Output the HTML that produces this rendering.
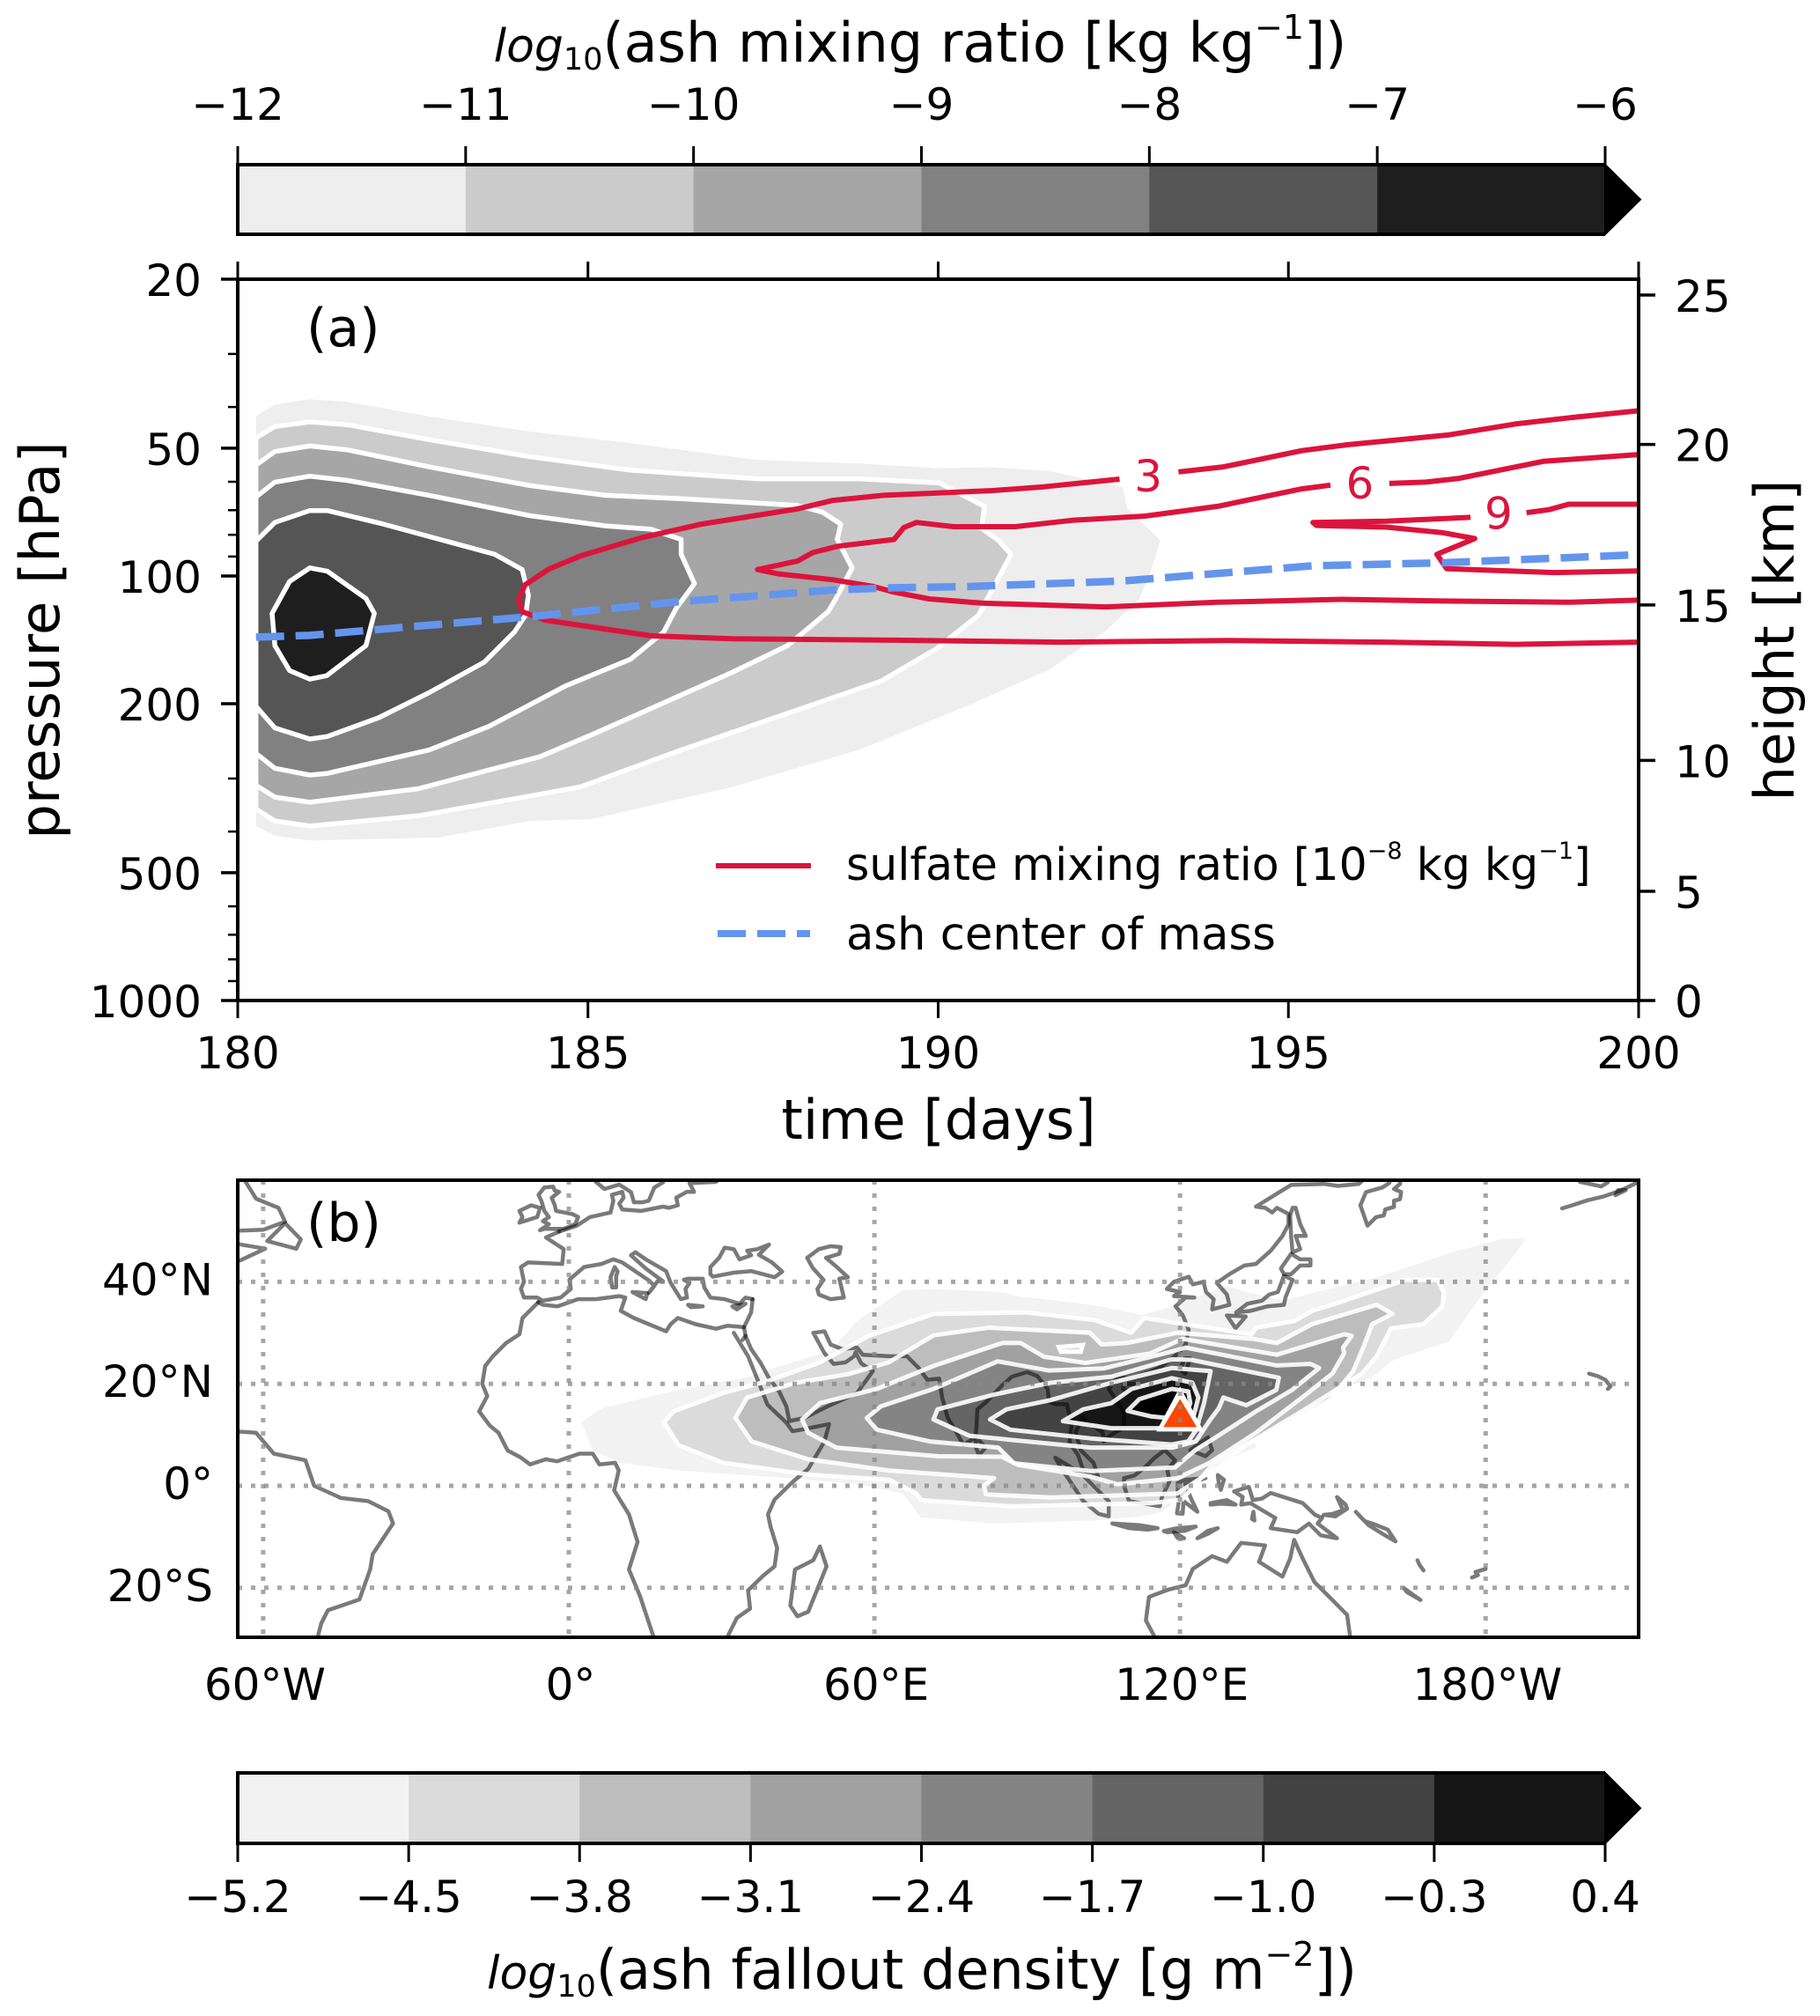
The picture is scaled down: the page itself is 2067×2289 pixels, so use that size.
<!DOCTYPE html>
<html lang="en">
<head>
<meta charset="utf-8">
<title>Ash mixing ratio and fallout density</title>
<style>
html,body{margin:0;padding:0;background:#fff;}
svg{display:block;font-family:"DejaVu Sans","Liberation Sans",sans-serif;fill:#000;}
</style>
</head>
<body>
<svg id="fig" xmlns="http://www.w3.org/2000/svg" width="2067" height="2289" viewBox="0 0 2067 2289">
  <defs>
    <clipPath id="clipA"><rect x="270" y="317" width="1591" height="819"/></clipPath>
    <clipPath id="clipB"><rect x="270" y="1340" width="1591" height="519"/></clipPath>
  </defs>
  <rect width="2067" height="2289" fill="#fff"/>

  <text x="1045" y="70" font-size="62" text-anchor="middle"><tspan font-style="italic" font-size="52">log</tspan><tspan font-size="35" dy="9">10</tspan><tspan dy="-9">(ash mixing ratio [kg kg</tspan><tspan font-size="38" dy="-26">−1</tspan><tspan dy="26">])</tspan></text>
  <g id="topColorbar"></g>

  <g id="panelA"></g>
  <text x="348" y="393" font-size="60">(a)</text>
  <text x="1066" y="1293" font-size="62.5" text-anchor="middle">time [days]</text>
  <text x="67" y="727" font-size="62.5" text-anchor="middle" transform="rotate(-90 67 727)">pressure [hPa]</text>
  <text x="2037" y="727" font-size="62.5" text-anchor="middle" transform="rotate(-90 2037 727)">height [km]</text>

  <g>
    <line x1="813" y1="983" x2="921" y2="983" stroke="#dc143c" stroke-width="6"/>
    <text x="961" y="999" font-size="50.5">sulfate mixing ratio [10<tspan font-size="27" dy="-24">−8</tspan><tspan dy="24"> kg kg</tspan><tspan font-size="27" dy="-24">−1</tspan><tspan dy="24">]</tspan></text>
    <line x1="815" y1="1060" x2="920" y2="1060" stroke="#6495ed" stroke-width="8" stroke-dasharray="32,13"/>
    <text x="961" y="1078" font-size="51.2">ash center of mass</text>
  </g>

  <g id="panelB"></g>
  <text x="348" y="1409" font-size="60">(b)</text>

  <g id="bottomColorbar"></g>
  <text x="1047" y="2258" font-size="62" text-anchor="middle"><tspan font-style="italic" font-size="52">log</tspan><tspan font-size="35" dy="9">10</tspan><tspan dy="-9">(ash fallout density [g m</tspan><tspan font-size="38" dy="-26">−2</tspan><tspan dy="26">])</tspan></text>
</svg>

<script>
/* ---------- Panel (a) data: [day, log10(pressure / hPa)] ---------- */
const timeTicks = [180, 185, 190, 195, 200];
const pressureTicks = [20, 50, 100, 200, 500, 1000];
const pressureMinorTicks = [30, 40, 60, 70, 80, 90, 300, 400, 600, 700, 800, 900];
const heightTickLabels = [0, 5, 10, 15, 20, 25];
const heightTickPressures = [1000, 553, 272, 117, 49, 21.8];

const ashLevel0 = [[180.26,1.624],[180.53,1.596],[181.03,1.584],[181.57,1.59],[182.73,1.624],[184.17,1.66],[185.61,1.687],[187.42,1.727],[188.86,1.735],[189.98,1.746],[190.78,1.744],[191.59,1.753],[192.63,1.791],[192.7,1.84],[193.17,1.916],[193.03,1.992],[192.87,2.054],[192.39,2.13],[191.59,2.22],[190.46,2.303],[188.86,2.41],[187.06,2.497],[185.04,2.573],[184.17,2.577],[182.87,2.616],[181.03,2.623],[180.53,2.612],[180.26,2.589]];
const ashLevel1 = [[180.26,1.675],[180.53,1.648],[181.03,1.637],[181.57,1.644],[182.73,1.679],[184.17,1.719],[185.61,1.751],[187.42,1.771],[188.86,1.771],[190.02,1.781],[190.66,1.836],[190.62,1.888],[190.86,1.916],[191.04,1.949],[190.7,2.054],[190.58,2.092],[189.98,2.171],[189.18,2.248],[188,2.315],[186.33,2.41],[184.89,2.497],[183.67,2.533],[182.58,2.565],[181.03,2.589],[180.53,2.577],[180.26,2.549]];
const ashLevel2 = [[180.26,1.739],[180.53,1.707],[181.03,1.694],[181.57,1.703],[182.73,1.743],[184.17,1.787],[185.25,1.81],[186.33,1.818],[187.99,1.834],[188.35,1.85],[188.61,1.878],[188.56,1.914],[188.77,1.981],[188.54,2.053],[188.43,2.084],[187.85,2.164],[187.06,2.227],[185.11,2.37],[184.31,2.426],[183.59,2.457],[182.58,2.501],[181.03,2.533],[180.53,2.521],[180.26,2.493]];
const ashLevel3 = [[180.26,1.814],[180.53,1.779],[181.03,1.765],[181.57,1.775],[182.73,1.81],[184.17,1.858],[185.25,1.882],[185.9,1.89],[186.33,1.914],[186.33,1.949],[186.52,2.018],[186.26,2.076],[186.08,2.132],[185.61,2.196],[184.68,2.259],[183.59,2.354],[182.73,2.41],[181.28,2.465],[181.03,2.469],[180.53,2.453],[180.26,2.418]];
const ashLevel4 = [[180.26,1.918],[180.53,1.874],[181.03,1.846],[181.28,1.846],[182.08,1.878],[183.67,1.949],[184.06,1.985],[184.15,2.045],[184.11,2.092],[183.95,2.132],[183.52,2.203],[182.73,2.275],[182.01,2.334],[181.28,2.378],[181.03,2.384],[180.53,2.358],[180.26,2.307]];
const ashLevel5 = [[181.03,1.981],[181.28,1.989],[181.83,2.053],[181.95,2.088],[181.83,2.164],[181.27,2.235],[181.03,2.243],[180.74,2.223],[180.53,2.164],[180.49,2.088],[180.74,2.013]];
const ashLevels = [ashLevel0, ashLevel1, ashLevel2, ashLevel3, ashLevel4, ashLevel5];

const sulfate3Right = [[200,1.611],[199.04,1.627],[198.24,1.642],[197.28,1.668],[195.84,1.691],[195.19,1.705],[194.07,1.743],[193.43,1.755]];
const sulfate3Rest = [[192.59,1.772],[191.51,1.79],[190.78,1.799],[189.22,1.81],[188.5,1.822],[187.99,1.842],[186.62,1.878],[185.76,1.91],[184.89,1.953],[184.44,1.984],[184.1,2.021],[184.01,2.057],[184.06,2.084],[184.39,2.104],[185.9,2.141],[187.06,2.148],[189.18,2.151],[191.75,2.156],[194.15,2.152],[196.4,2.156],[198.24,2.161],[200,2.156]];
const sulfate6Right = [[200,1.714],[198.64,1.73],[197.44,1.77],[196.96,1.779],[196.44,1.782]];
const sulfate6Rest = [[195.6,1.786],[195.19,1.795],[193.99,1.836],[192.95,1.859],[191.91,1.869],[191.1,1.884],[190.22,1.884],[189.69,1.874],[189.51,1.886],[189.37,1.914],[188.57,1.93],[188.21,1.945],[187.99,1.965],[187.42,1.985],[187.71,1.995],[188.5,2.009],[189.08,2.025],[189.37,2.038],[189.87,2.054],[190.62,2.064],[192.39,2.073],[193.99,2.062],[195.76,2.055],[197.2,2.059],[199.04,2.062],[200,2.057]];
const sulfate9Right = [[200,1.831],[199,1.831],[198.72,1.844],[198.4,1.851]];
const sulfate9Rest = [[197.6,1.862],[196.4,1.871],[195.35,1.874],[195.4,1.881],[196.4,1.885],[197.2,1.898],[197.66,1.912],[197.12,1.949],[197.26,1.983],[198.8,1.992],[200,1.988]];
const sulfateLines = [sulfate3Right, sulfate3Rest, sulfate6Right, sulfate6Rest, sulfate9Right, sulfate9Rest];
const sulfateLabelValues = [3, 6, 9];
const sulfateLabelDays = [193.0, 196.02, 198.0];
const sulfateLabelLogP = [1.764, 1.78, 1.852];

const centerOfMass = [[180.26,2.144],[181.03,2.14],[182.01,2.126],[184.17,2.096],[186.33,2.06],[188.5,2.033],[189.34,2.028],[190.43,2.025],[192.63,2.012],[195.35,1.976],[197.2,1.969],[200,1.95]];

/* ---------- Colorbars ---------- */
const ashBarTicks = [-12, -11, -10, -9, -8, -7, -6];
const ashBarColors = ['#eeeeee', '#cbcbcb', '#a7a6a6', '#818181', '#555555', '#1e1e1e'];
const falloutBarTicks = [-5.2, -4.5, -3.8, -3.1, -2.4, -1.7, -1.0, -0.3, 0.4];
const falloutBarColors = ['#f2f2f2', '#dbdbdb', '#bdbdbd', '#a1a1a1', '#848484', '#656565', '#434343', '#161616'];

/* ---------- Panel (b) data: [longitude east, latitude] ---------- */
const lonTicks = [-60, 0, 60, 120, 180];
const lonTickNames = ['60°W', '0°', '60°E', '120°E', '180°W'];
const latTicks = [40, 20, 0, -20];
const latTickNames = ['40°N', '20°N', '0°', '20°S'];

const fallout0 = [[2.5,12.5],[6.5,15.2],[21.5,18.8],[34.7,21.2],[43.5,24.1],[51.5,26.5],[56.8,32.5],[65.6,38.4],[71.6,38.6],[85,38],[87.8,37.2],[98.7,36],[104.4,35.2],[112.5,33.5],[118,35],[129.2,39.2],[133.2,38],[140.1,36.3],[159,41],[173.5,45.8],[182.8,48.3],[187.8,48.6],[186.4,46.2],[180,38.4],[172.8,28.3],[162,24.7],[157.5,21.2],[148.4,17.6],[141.3,13.3],[134.6,9.3],[134.9,7.5],[128,4.7],[124.6,1.8],[119.5,-2.7],[116.5,-5.1],[112.5,-6],[103.2,-6.8],[83.3,-7.4],[69.1,-6.2],[65.6,-1.5],[56.8,0.3],[43.5,1.5],[21.5,3],[10,4.5],[4.7,6.9]];
const fallout1 = [[18.7,12.5],[20.6,14.6],[30.3,18.2],[39,20.5],[49.3,24.2],[58.9,29.4],[71.6,33.7],[89.6,34],[103.2,32.5],[110.4,30],[113,32.9],[119.5,31.9],[134,29.7],[135,31],[142.4,32.3],[145.9,34.3],[150.5,35.7],[164.3,40.4],[170.6,40.4],[171.8,37.8],[171.5,35.2],[167.8,31.7],[161.4,30.9],[158.6,25.4],[155.7,22],[143.9,14.6],[134.9,9.2],[126.7,4.5],[120.4,-2.7],[114.4,-3.4],[86.7,-4],[69.2,-2.8],[68.2,-1.5],[62.9,1.2],[48,2.1],[30.3,4.5],[21.5,8]];
const fallout2 = [[32.7,13.3],[35,17.3],[44.6,20.2],[54.9,21.9],[62.8,24.2],[71.6,29.5],[82.4,31],[102.3,30],[104.6,27.7],[109.5,28],[119.5,30],[134.4,28.8],[139,28],[145.9,31.7],[158.6,35.5],[161.7,33.7],[157.7,31.7],[156.2,27.7],[154,22.5],[149.3,16.8],[133,8],[125,2.1],[119.5,-1.5],[94.6,-2.3],[81.9,-1.7],[81.5,0],[83.5,1.5],[62.8,3],[47,5.2],[35.9,8.7]];
const fallout2Hole = [[96.2,27.2],[100.9,27.6],[100.5,26.3],[96.6,26.3]];
const fallout3 = [[45.8,13],[49.3,16.2],[60.5,19],[71.6,23.5],[85.1,28],[88.7,28],[93.3,25.3],[101.4,24.1],[114,25.9],[120.5,28.8],[139,25.7],[152.2,29.7],[153.7,29.4],[152,27.1],[152.2,26],[149.9,22],[144.7,17.9],[134.9,10.4],[125.8,4.5],[119.5,1.5],[107.7,0.3],[102.5,1.8],[88.2,4.1],[85,5.7],[72.4,5.8],[52.5,7.5],[47,10.4]];
const fallout4 = [[58.5,13.3],[61.3,15.6],[71.6,19],[84.2,24.4],[94.2,22.6],[105,23],[116.8,25.9],[121.1,27.1],[139,23.6],[145.6,23.9],[147.3,23.1],[142,18.8],[134.9,14.6],[127,9.5],[123,7],[119,3.6],[102.5,2.9],[87.4,4.4],[84.3,7.5],[70.8,8.7],[60.5,11]];
const fallout5 = [[71.6,13],[72.4,15],[83.5,17.9],[94.6,20.2],[106.5,21.4],[118.4,24.8],[122.2,24.7],[139.4,21.2],[138.9,18.8],[133,15.8],[128.5,17.3],[127.6,15.2],[125.8,12.8],[123.1,8.7],[118.6,7.5],[102.5,7.5],[78.7,9.8]];
const fallout6 = [[82.7,13],[85.9,15],[94.6,16.8],[106.5,20.2],[118.4,23.1],[126,22.5],[124.7,16.2],[123.2,11],[121.6,8.7],[118.4,8.1],[102.5,9.3],[86.7,11]];
const fallout7 = [[97,12.7],[101,15],[106.5,16.2],[110.5,19],[118.4,21.1],[122.4,20.2],[123.6,17.3],[122.4,12.7],[118.4,11.3],[106.5,11.3]];
const fallout8 = [[109.7,14.7],[112,17],[118.4,19],[121.6,18.5],[122,16.2],[120.8,13],[114.4,13.6]];
const falloutLevels = [fallout0, fallout1, fallout2, fallout3, fallout4, fallout5, fallout6, fallout7, fallout8];
const falloutLevelColors = ['#f2f2f2', '#dbdbdb', '#bdbdbd', '#a1a1a1', '#848484', '#656565', '#434343', '#161616', '#000000'];
const volcanoLocation = [120.35, 15.13];

const coastAfrica = [[-6,36],[-9.1,32.9],[-9.7,29.7],[-12.3,28],[-14.9,25.4],[-16.4,23.5],[-17,20],[-16,17.6],[-17.6,14.6],[-15.5,11.8],[-13.8,10.4],[-12,6.9],[-9.5,5.6],[-7.6,4.2],[-4.5,5.2],[-2.3,4.8],[2.1,6.3],[4.7,6.3],[6,4.2],[9.1,4.5],[9.8,3],[8.9,-0.9],[11.8,-5.6],[13.5,-11],[11.8,-16.4],[14,-21.7],[16.6,-29.5],[17,-31]];
const coastAfricaEast = [[31.2,-30.5],[31.2,-29.5],[33,-25.9],[35.6,-24.1],[35.2,-20.5],[38.2,-17.6],[40.4,-15.8],[40.9,-12.2],[39.6,-8],[39.1,-5.6],[40.4,-2.7],[44,0.8],[47,3.3],[50.2,8.7],[51.1,12.1],[45.6,11],[43.9,10.7],[42.7,12.4],[39,15.9],[37.3,20.2],[35.2,25.4],[32.4,30]];
const coastMediterraneanSouth = [[36.1,36.6],[35.8,34],[34.4,31.1],[31.2,31.4],[28.9,30.8],[24.9,31.7],[21.4,32.9],[20,31.7],[19.1,30.3],[15.7,31.7],[12.8,32.9],[10.2,34.3],[11.1,36.9],[9.9,37.2],[5.3,36.6],[1.8,36.6],[-2.2,35.2],[-5.1,35.5],[-6,36]];
const coastSinai = [[34.1,28.6],[34.7,29.4],[34.4,31.1]];
const coastArabia = [[34.7,29.4],[35.8,26.8],[37.6,24.2],[39.3,21.1],[41.3,18.5],[42.7,15.6],[43.3,12.7],[46.2,13.3],[50.8,15.6],[56.6,18.2],[59.7,22.5],[57.4,24],[56.3,26.2],[56,25.4],[54.3,24.2],[52,23.9],[50.2,26],[48,30],[50.2,30.3],[51.4,27.7],[53.7,26.8],[56.6,27.1],[57.7,25.7],[62.9,25.4],[66.4,25.4],[68.7,23.1],[70.4,20.8],[72.7,21],[73.3,17.3],[74.4,13.3],[75.5,11.5],[77.5,8],[79.8,9.5],[80,11],[80.2,15],[82,16.5],[85,19.6],[87,21.4],[90,22.3],[92,21.5],[94,19],[94.3,16.5],[95.5,16],[97.8,16],[98.7,12],[98.3,8.5],[100,6],[101,3],[104,1.5],[103,4.5],[100.5,7],[99.5,10.5],[100.8,13.4],[102.5,12],[104.8,10.5],[105,8.7],[106.5,10],[109,11.5],[109,14.5],[106,19],[108,21.5],[110,21],[114,22.3],[115.9,23.1],[119.7,26],[121.1,27.7],[121.7,30.6],[120.5,33.5],[119.1,35.2],[121.1,36.9],[122.8,36.9],[118.8,37.2],[120,38],[117.4,38.6],[118.8,40],[121.7,41],[122.5,39.5],[124.6,40],[125.1,38],[126.6,36.6],[126.3,34.6],[129.7,35.5],[129.2,37.5],[127.2,39.8],[129.7,41.5],[132.6,43.2],[134.9,43.5],[137.8,46.1],[140.1,49],[141.3,51.3],[141.3,53.3],[139,54.5],[138.1,53.6],[136.7,54.5],[134.9,54.75],[141.8,59],[148.2,59.2],[151,58.8],[155.1,59.2],[157,61]];
const coastKamchatka = [[163.2,60.5],[163.2,59.2],[162,58.2],[163.4,57.6],[163.2,56.2],[162,55.9],[162,54.7],[160.3,54.2],[160,53],[158.5,52.7],[156.8,51],[155.4,55],[156.5,57.6],[159.7,58.5],[161.1,59.4],[161,60.5]];
const coastSriLanka = [[80,9.5],[81.8,7.5],[80.5,6],[79.8,8],[80,9.5]];
const coastHonshu = [[140.4,41.2],[142.1,40.4],[140.7,36.9],[140.4,35.5],[137.2,35.2],[133.8,34.3],[131,34],[133.2,35.7],[136.1,36.3],[137.5,37.5],[139.2,38],[140.4,41.2]];
const coastKyushu = [[129.2,33.4],[130.9,30.9],[132.9,33.2],[129.2,33.4]];
const coastHokkaido = [[141.8,45.5],[143.6,44.4],[145.6,44.4],[145.6,43.2],[143.6,43.2],[141.8,41.5],[140.4,41.5],[139.8,42.6],[141.8,45.5]];
const coastSakhalin = [[142.1,54.5],[142.7,54.5],[143.6,51.3],[144.7,49],[142.7,49],[143.6,46.4],[142.1,45.8],[141.8,49],[141.6,53],[142.1,54.5]];
const coastTaiwan = [[121,25],[122,25],[121,22],[120,23],[121,25]];
const coastHainan = [[109,20],[111,20],[110,18.3],[108.8,19],[109,20]];
const coastLuzon = [[120.5,18.3],[122,18.3],[122,16],[124,13],[121,13.5],[120,16],[120.5,18.3]];
const coastMindanao = [[122,7],[125.5,9.5],[126.3,7],[125,5.8],[122,7]];
const coastSumatra = [[95.5,5.5],[98,4],[101,2],[104,-1],[106,-3],[106,-6],[104,-5.5],[101,-3],[99,0],[97,3],[95.5,5.5]];
const coastJava = [[106.7,-7.4],[111.9,-7.7],[115.6,-8.3],[113.6,-8.6],[110,-8.3],[106.7,-7.4]];
const coastLesserSunda = [[116.8,-8.9],[119,-8.4],[123.1,-8],[121,-8.8],[117.5,-9.1],[116.8,-8.9]];
const coastSumba = [[118.8,-9.1],[120.8,-10.3],[119.5,-10.2],[118.8,-9.1]];
const coastTimor = [[123.4,-10.3],[125.5,-9.4],[127.4,-8.3],[125.5,-8.8],[123.4,-10.3]];
const coastBorneo = [[109,1.5],[111,2],[113,3.5],[115,5.5],[117,7],[119,5],[117.5,3],[118,1],[116.5,-2],[116,-4],[113,-3.5],[110,-3],[109,0],[109,1.5]];
const coastSulawesi = [[119.4,-5.4],[119.7,-3.4],[119.5,0.5],[121.1,1.2],[125,1.5],[121,0.3],[122.3,-2.8],[123.4,-5.1],[122,-4],[120.7,-3],[120.5,-5.5],[119.4,-5.4]];
const coastHalmahera = [[127.4,2.1],[128.6,1.2],[128,-0.8],[127.6,0.5],[127.4,2.1]];
const coastSeram = [[126,-3.4],[129.2,-2.8],[130.9,-3.7],[128,-3.5],[126,-3.7]];
const coastAru = [[134.4,-5.1],[134.6,-6.8],[134.1,-6.5],[134.4,-5.1]];
const coastNewGuinea = [[130.6,-1.1],[133.5,-0.2],[134.3,-2.8],[136.1,-2.5],[137.8,-1.4],[144.1,-3.4],[146.5,-5.7],[147.9,-6.3],[147,-7.4],[150.8,-10.3],[147.6,-9.7],[145.3,-7.4],[143,-9.1],[137.8,-8.3],[138.7,-6.3],[133.8,-3.4],[132,-3.7],[132.3,-2.2],[130.6,-1.1]];
const coastNewBritain = [[148.2,-5.7],[150.5,-6],[152.8,-4.5],[152.5,-3.7],[150.8,-2.2],[152,-4.8],[150,-5.5],[148.2,-5.7]];
const coastSolomons = [[154.5,-5.1],[156.2,-6.9],[158,-7.5],[160.8,-8.6],[162.3,-10.9],[159.7,-9.4],[157,-7.7],[154.5,-5.1]];
const coastVanuatu = [[166.6,-14.6],[167,-15.5],[167.8,-16.6]];
const coastNewCaledonia = [[164,-20.1],[165.5,-21.2],[167.2,-22.4],[164.5,-20.8],[164,-20.1]];
const coastFiji = [[177.3,-18],[178.5,-17.5],[178,-16.9],[180,-16.3]];
const coastHawaii = [[200.3,22],[202,21.5],[203.5,20.8],[204.5,19.5],[204,19]];
const coastAleutians = [[195,54.4],[197,55],[200,56],[203,56.7],[206.3,57.8],[209.4,59.3],[212,60]];
const coastAlaskaNorth = [[198.2,60.5],[198.5,59.6],[202.7,58.7],[204,59.5]];
const coastKodiak = [[205.5,57],[207.5,58],[206,58],[205.5,57]];
const coastAustralia = [[115.5,-31],[115,-29.6],[113.3,-26.4],[113.9,-21.8],[117.6,-20.4],[121.1,-19.5],[122.5,-16.3],[126.3,-13.8],[129.2,-14.9],[132,-11.2],[136.7,-11.7],[135.5,-14.9],[140.1,-17.8],[141.6,-14.3],[142.4,-10.6],[144.1,-14.3],[146.4,-18.9],[149.9,-22.4],[152.8,-25.3],[153.4,-29.6],[153.5,-31]];
const coastMadagascar = [[49.3,-11.9],[50.6,-15.8],[47,-24.7],[44.9,-25.6],[43.5,-23.5],[44.4,-16.4],[48,-14.6],[49.3,-11.9]];
const coastSouthAmerica = [[-66,10.7],[-61.4,10.4],[-57.9,6.3],[-51.7,5],[-50,0],[-44.7,-2.4],[-39.4,-3],[-35.4,-5],[-34.5,-7.4],[-38.5,-13.4],[-39,-16.4],[-41.1,-22.3],[-47.3,-24.4],[-48.6,-27],[-49.5,-30.5]];
const coastNorthAtlantic = [[-64,60.5],[-61.4,56.3],[-57,54.5],[-55.7,51.8],[-60,50.2],[-65.5,50]];
const coastNewfoundland = [[-59.2,48],[-55.7,51.5],[-52.6,48.3],[-53.5,46.5],[-59.2,48]];
const coastNovaScotia = [[-65.5,47.5],[-59.6,46.5],[-66,43.5]];
const coastFranceIberia = [[-1.9,49.85],[-4.5,48.7],[-1,46.4],[-1.3,43.5],[-8,43.8],[-9.4,42.9],[-8.8,40],[-9.4,38.6],[-8.8,36.9],[-6.2,36.9],[-5.1,36.3],[-1.6,36.9],[0.4,38.6],[0.1,40.4],[3,42.9],[6.4,43.5],[8.75,44.4],[10.5,43.8],[15.7,40.3],[16.8,39.2],[15.7,37.8],[17.4,40.1],[18.5,40.1],[15.1,42.6],[13.1,44.4],[12.2,45.2],[13.1,45.8],[15.1,44.4],[19.1,42.1],[20,39.8],[22,36.6],[23.2,36.9],[22.9,38.6],[23.7,39.8],[22.6,40.4],[23.4,40.6],[26.3,40.6],[26.6,38.9],[27.8,36.9],[30.6,36.6],[33.5,35.7],[34.7,36.9],[36.1,36.6]];
const coastNorthEurope = [[-1.9,49.85],[1.55,51],[4.14,52.7],[8.2,53.6],[8.75,55.9],[8.46,57.05],[10.5,57.63],[10.76,56.5],[9.9,55.3],[10.5,54.2],[14.2,53.9],[18.5,54.75],[19.7,54.5],[21.4,55],[21.1,56.5],[23.15,57.63],[24.6,57.63],[23.7,59.35],[28.9,59.6],[30,60.5]];
const coastScandinavia = [[5.3,61],[5.3,59.6],[7,58.2],[9.9,59.07],[12.2,57.6],[12.8,55.6],[14.5,55.6],[15.7,55.9],[16.8,58.5],[18.5,59.5],[18,61]];
const coastBritain = [[-5.94,57.05],[-4.8,58.5],[-3.06,58.66],[-2.77,57.9],[-1.9,57.63],[-3.35,56.48],[-2.77,55.04],[-2.5,53.9],[0.68,53.3],[1.83,52.7],[1.26,51.3],[-1,50.4],[-4.8,50.4],[-5.65,50.1],[-3.9,51.3],[-5.1,51.9],[-3.9,52.7],[-4.8,53.9],[-5.4,55.9],[-5.94,57.05]];
const coastIreland = [[-9.7,53.9],[-7.4,55],[-5.65,54.5],[-6.2,52.7],[-9.7,51.6],[-9.1,52.7],[-9.7,53.9]];
const coastBlackSea = [[27.8,41.5],[27.8,42.9],[29.5,44.7],[30.6,46.7],[32.4,46.4],[33.5,44.4],[35.8,45.2],[35,46.1],[37,46.4],[39.3,47.3],[37.3,45.3],[39.9,43.8],[41.9,42],[40.4,40.9],[35.8,42.1],[32.4,41.8],[28.3,41],[27.8,41.5]];
const coastCaspian = [[46.8,44.7],[49.1,46.4],[51.4,47],[53.4,46.8],[53.1,45.5],[50.5,44.7],[52.5,43],[54.8,40.9],[53.1,40.6],[54,36.9],[51.4,36.6],[49.1,37.5],[48.8,38.6],[50,40.4],[47.9,42.7],[46.8,44.7]];
const coastCorsica = [[9,42.9],[9.6,42],[9.3,41.2],[9.3,38.9],[8.5,38.9],[8.2,40.9],[9,42.9]];
const coastSicily = [[12.5,38],[15.4,37.8],[15.1,36.6],[12.5,38]];
const coastCrete = [[23.4,35.5],[26.3,35.2],[24,35],[23.4,35.5]];
const coastCyprus = [[32.1,35.2],[34.7,35.7],[33,34.6],[32.1,35.2]];
const coastlines = [coastAfrica, coastAfricaEast, coastMediterraneanSouth, coastSinai, coastArabia, coastKamchatka, coastSriLanka, coastHonshu, coastKyushu, coastHokkaido, coastSakhalin, coastTaiwan, coastHainan, coastLuzon, coastMindanao, coastSumatra, coastJava, coastLesserSunda, coastSumba, coastTimor, coastBorneo, coastSulawesi, coastHalmahera, coastSeram, coastAru, coastNewGuinea, coastNewBritain, coastSolomons, coastVanuatu, coastNewCaledonia, coastFiji, coastHawaii, coastAleutians, coastAlaskaNorth, coastKodiak, coastAustralia, coastMadagascar, coastSouthAmerica, coastNorthAtlantic, coastNewfoundland, coastNovaScotia, coastFranceIberia, coastNorthEurope, coastScandinavia, coastBritain, coastIreland, coastBlackSea, coastCaspian, coastCorsica, coastSicily, coastCrete, coastCyprus];

/* ---------- Axis functions ---------- */
const NS = 'http://www.w3.org/2000/svg';
const dayToX = d => 270 + (d - 180) * (1861 - 270) / 20;
const logPToY = l => 317 + (l - Math.log10(20)) * (1136 - 317) / (3 - Math.log10(20));
const pressureToY = p => logPToY(Math.log10(p));
const lonToX = lon => 646 + lon * 5.785;
const latToY = lat => 1687 - lat * 5.79;
const ashBarX = v => 270 + (v + 12) * (1823 - 270) / 6;
const falloutBarX = v => 270 + (v + 5.2) * (1823 - 270) / 5.6;

function mk(tag, attrs, parent) {
  const el = document.createElementNS(NS, tag);
  for (const k in attrs) el.setAttribute(k, attrs[k]);
  parent.appendChild(el);
  return el;
}
const dayPath = (pts, close) => pts.map((p, i) => (i ? 'L' : 'M') + dayToX(p[0]).toFixed(1) + ' ' + logPToY(p[1]).toFixed(1)).join('') + (close ? 'Z' : '');
const mapPath = (pts, close) => pts.map((p, i) => (i ? 'L' : 'M') + lonToX(p[0]).toFixed(1) + ' ' + latToY(p[1]).toFixed(1)).join('') + (close ? 'Z' : '');

/* ---------- Colorbars ---------- */
function drawColorbar(root, ticks, colors, scale, top, bottom, tickDir, labelBaseline, labelFor, prefix) {
  colors.forEach((c, i) => {
    const seg = mk('rect', {x: scale(ticks[i]), y: top, width: scale(ticks[i + 1]) - scale(ticks[i]) + 0.5, height: bottom - top, fill: c}, root);
    
    
  });
  const right = scale(ticks[ticks.length - 1]);
  const arrow = mk('path', {d: `M${right} ${top}L${right + 40} ${(top + bottom) / 2}L${right} ${bottom}Z`, fill: '#000', stroke: '#000', 'stroke-width': 2}, root);
  
  
  const frame = mk('path', {d: `M${right} ${top}L270 ${top}L270 ${bottom}L${right} ${bottom}`, fill: 'none', stroke: '#000', 'stroke-width': 4}, root);
  
  
  ticks.forEach(v => {
    const y0 = tickDir < 0 ? top : bottom;
    const t = mk('line', {x1: scale(v), x2: scale(v), y1: y0, y2: y0 + tickDir * 21, stroke: '#000', 'stroke-width': 3}, root);
    
    
    const lab = mk('text', {x: scale(v), y: labelBaseline, 'font-size': 50, 'text-anchor': 'middle'}, root);
    lab.textContent = labelFor(v);
    
    
  });
}
const minusFmt = s => s.replace('-', '−');
drawColorbar(document.getElementById('topColorbar'), ashBarTicks, ashBarColors, ashBarX, 187, 266, -1, 136,
  v => minusFmt(String(v)), 'ash-colorbar');
drawColorbar(document.getElementById('bottomColorbar'), falloutBarTicks, falloutBarColors, falloutBarX, 2013, 2093, 1, 2171,
  v => minusFmt(v.toFixed(1)), 'fallout-colorbar');

/* ---------- Panel (a) ---------- */
const A = document.getElementById('panelA');
const aClip = mk('g', {'clip-path': 'url(#clipA)'}, A);



ashLevels.forEach((lvl, i) => {
  const poly = mk('path', {d: dayPath(lvl, true), fill: ashBarColors[i], stroke: i === 0 ? 'none' : '#fff', 'stroke-width': 5.5, 'stroke-linejoin': 'round'}, aClip);
  
  
});
sulfateLines.forEach(line => {
  const s = mk('path', {d: dayPath(line, false), fill: 'none', stroke: '#dc143c', 'stroke-width': 6, 'stroke-linejoin': 'round'}, aClip);
  
  
});
const com = mk('path', {d: dayPath(centerOfMass, false), fill: 'none', stroke: '#6495ed', 'stroke-width': 8.5, 'stroke-dasharray': '32,13'}, aClip);


sulfateLabelValues.forEach((v, i) => {
  const t = mk('text', {x: dayToX(sulfateLabelDays[i]), y: logPToY(sulfateLabelLogP[i]) + 18, 'font-size': 50, 'text-anchor': 'middle', fill: '#dc143c'}, A);
  t.textContent = v;
  
  
});

timeTicks.forEach(d => {
  const b = mk('line', {x1: dayToX(d), x2: dayToX(d), y1: 1136, y2: 1156, stroke: '#000', 'stroke-width': 3}, A);
  
  
  const u = mk('line', {x1: dayToX(d), x2: dayToX(d), y1: 317, y2: 297, stroke: '#000', 'stroke-width': 3}, A);
  
  
  const lab = mk('text', {x: dayToX(d), y: 1213, 'font-size': 50, 'text-anchor': 'middle'}, A);
  lab.textContent = d;
  
  
});
pressureTicks.forEach(p => {
  const t = mk('line', {x1: 270, x2: 251, y1: pressureToY(p), y2: pressureToY(p), stroke: '#000', 'stroke-width': 3.5}, A);
  
  
  const lab = mk('text', {x: 229, y: pressureToY(p) + 19, 'font-size': 50, 'text-anchor': 'end'}, A);
  lab.textContent = p;
  
  
});
pressureMinorTicks.forEach(p => {
  const t = mk('line', {x1: 270, x2: 259, y1: pressureToY(p), y2: pressureToY(p), stroke: '#000', 'stroke-width': 2.5}, A);
  
  
});
heightTickLabels.forEach((h, i) => {
  const y = pressureToY(heightTickPressures[i]);
  const t = mk('line', {x1: 1861, x2: 1880, y1: y, y2: y, stroke: '#000', 'stroke-width': 3.5}, A);
  
  
  const lab = mk('text', {x: 1902, y: y + 19, 'font-size': 50}, A);
  lab.textContent = h;
  
  
});
const aFrame = mk('rect', {x: 270, y: 317, width: 1591, height: 819, fill: 'none', stroke: '#000', 'stroke-width': 4}, A);



/* ---------- Panel (b) ---------- */
const B = document.getElementById('panelB');
const bClip = mk('g', {'clip-path': 'url(#clipB)'}, B);



falloutLevels.forEach((lvl, i) => {
  const poly = mk('path', {d: mapPath(lvl, true), fill: falloutLevelColors[i], stroke: 'none'}, bClip);
  
  
});
const hole = mk('path', {d: mapPath(fallout2Hole, true), fill: falloutLevelColors[1], stroke: 'none'}, bClip);



coastlines.forEach(c => {
  const first = c[0], last = c[c.length - 1];
  const closed = first[0] === last[0] && first[1] === last[1];
  const line = mk('path', {d: mapPath(c, closed), fill: 'none', stroke: '#000', 'stroke-opacity': 0.52, 'stroke-width': 4.5, 'stroke-linejoin': 'round', 'stroke-linecap': 'round'}, bClip);
  
  
});

falloutLevels.forEach((lvl, i) => {
  if (i === 0) return;
  const line = mk('path', {d: mapPath(lvl, true), fill: 'none', stroke: '#fff', 'stroke-opacity': 0.9, 'stroke-width': 5, 'stroke-linejoin': 'round'}, bClip);
  
  
});
const holeLine = mk('path', {d: mapPath(fallout2Hole, true), fill: 'none', stroke: '#fff', 'stroke-width': 5}, bClip);



const vx = lonToX(volcanoLocation[0]) - 2, vy = latToY(volcanoLocation[1]);
const volcanoHalo = mk('path', {d: `M${vx} ${vy - 25}L${vx + 27} ${vy + 26}L${vx - 27} ${vy + 26}Z`, fill: '#fff'}, bClip);


const volcano = mk('path', {d: `M${vx} ${vy - 11}L${vx + 19} ${vy + 21}L${vx - 19} ${vy + 21}Z`, fill: '#ff4500'}, bClip);



lonTicks.forEach((lon, i) => {
  const g = mk('line', {x1: lonToX(lon), x2: lonToX(lon), y1: 1340, y2: 1859, stroke: '#888', 'stroke-opacity': 0.75, 'stroke-width': 5, 'stroke-dasharray': '5,10'}, bClip);
  
  
  const lab = mk('text', {x: lonToX(lon) + 2, y: 1930, 'font-size': 50, 'text-anchor': 'middle'}, B);
  lab.textContent = lonTickNames[i];
  
  
});
latTicks.forEach((lat, i) => {
  const g = mk('line', {x1: 270, x2: 1861, y1: latToY(lat), y2: latToY(lat), stroke: '#888', 'stroke-opacity': 0.75, 'stroke-width': 5, 'stroke-dasharray': '5,10'}, bClip);
  
  
  const lab = mk('text', {x: 242, y: latToY(lat) + 15, 'font-size': 50, 'text-anchor': 'end'}, B);
  lab.textContent = latTickNames[i];
  
  
});
const bFrame = mk('rect', {x: 270, y: 1340, width: 1591, height: 519, fill: 'none', stroke: '#000', 'stroke-width': 4}, B);


</script>
</body>
</html>
